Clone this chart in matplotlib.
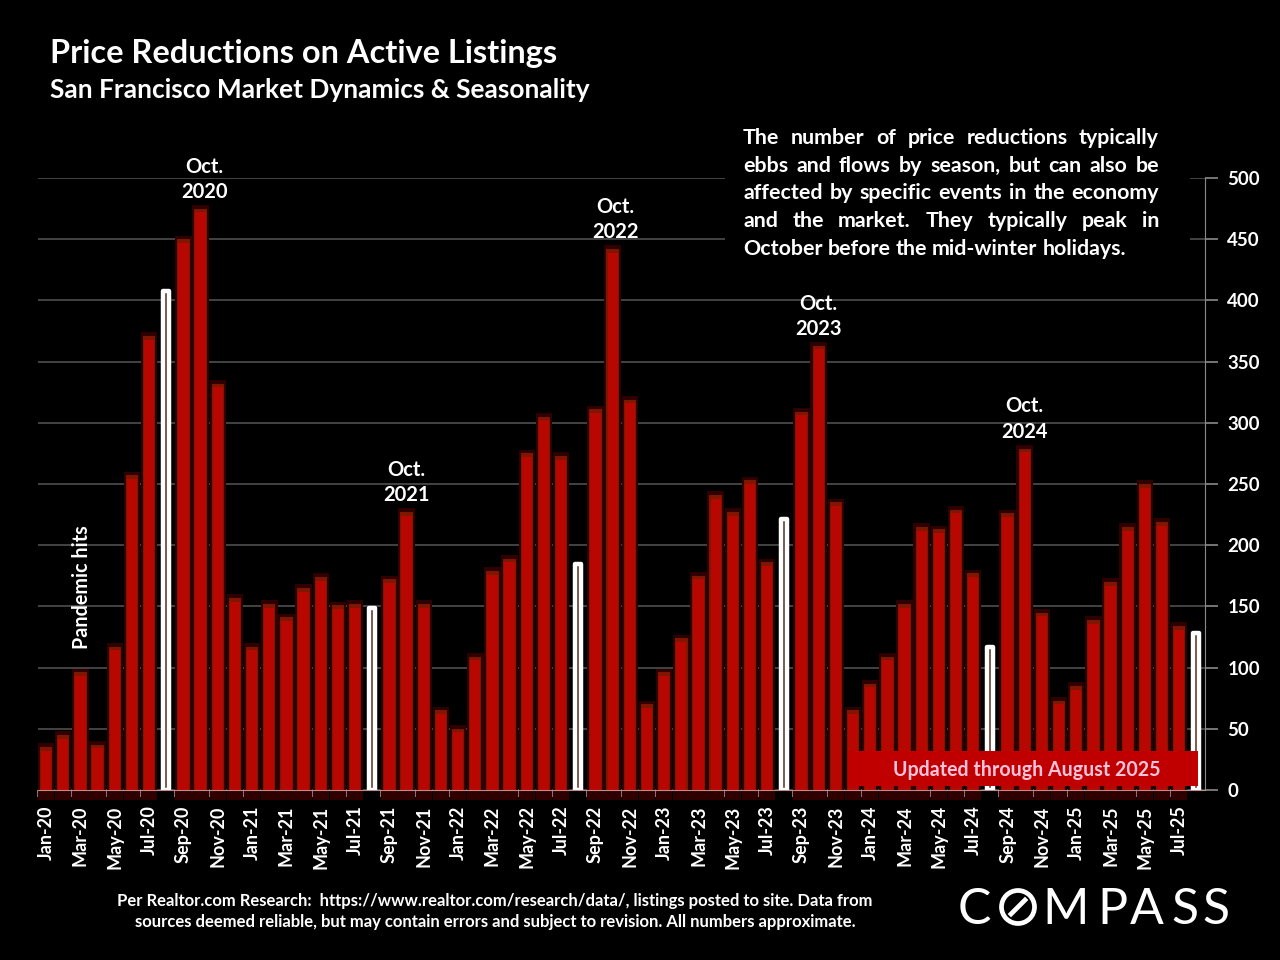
import matplotlib
matplotlib.use('Agg')
import matplotlib.pyplot as plt
from matplotlib.patches import Rectangle, Circle
import numpy as np

plt.rcParams['font.family'] = ['Lato', 'DejaVu Sans']

# Monthly price reductions, Jan-20 to Aug-25
years = ['20', '21', '22', '23', '24', '25']
month_names = ['Jan', 'Feb', 'Mar', 'Apr', 'May', 'Jun', 'Jul', 'Aug', 'Sep', 'Oct', 'Nov', 'Dec']
months = [m + '-' + y for y in years for m in month_names][:68]
values = [35, 45, 96, 37, 117, 257, 371, 408, 450, 475, 332, 157,
          117, 152, 141, 165, 174, 151, 152, 149, 172, 227, 152, 65,
          50, 109, 179, 189, 275, 305, 273, 185, 311, 442, 319, 70,
          96, 124, 175, 241, 227, 253, 186, 221, 309, 363, 235, 65,
          87, 109, 152, 215, 213, 229, 177, 117, 226, 279, 145, 73,
          85, 139, 170, 215, 250, 219, 134, 128]
y_ticks = [0, 50, 100, 150, 200, 250, 300, 350, 400, 450, 500]
oct_labels = ['Oct.\n2020', 'Oct.\n2021', 'Oct.\n2022', 'Oct.\n2023', 'Oct.\n2024']
oct_index = [9, 21, 33, 45, 57]

note_lines = ['The number of price reductions typically',
              'ebbs and flows by season, but can also be',
              'affected by specific events in the economy',
              'and the market. They typically peak in',
              'October before the mid-winter holidays.']

x = np.arange(len(values))
vals = np.array(values)
is_aug = np.array([m.startswith('Aug') for m in months])

W, H = 1280, 960
fig = plt.figure(figsize=(12.8, 9.6), dpi=100, facecolor='black')
ax = fig.add_axes([37.5 / W, (H - 790) / H, (1205 - 37.5) / W, (790 - 178) / H], facecolor='black')
ax.set_xlim(-0.5, len(values) - 0.5)
ax.set_ylim(0, 500)
ax.grid(axis='y', color='#555555', linewidth=1.1)
ax.set_axisbelow(True)

# dark halo behind the bars, running a little past both ends
ax.bar(x[~is_aug], vals[~is_aug] + 11, bottom=-8, width=0.96, color='#2e0000', clip_on=False, zorder=2)
ax.bar(x[~is_aug], vals[~is_aug], width=0.72, color='#7e1600', zorder=3)
ax.bar(x[~is_aug], vals[~is_aug] - 3, width=0.6, color='#b80600', zorder=4)

# August bars are outlined in white
ax.bar(x[is_aug], vals[is_aug], width=0.35, facecolor='#5a3020', edgecolor='white', linewidth=3.2,
       joinstyle='round', zorder=5)

ax.yaxis.tick_right()
ax.set_yticks(y_ticks)
ax.tick_params(axis='y', colors='#8a8a8a', length=9, width=1.2, labelcolor='white', labelsize=13.5, pad=7)
for lab in ax.get_yticklabels():
    lab.set_fontweight('bold')

ax.set_xticks(x[::2])
ax.set_xticklabels(months[::2], rotation=90, color='white', fontsize=13, fontweight='bold')
ax.tick_params(axis='x', length=0, pad=11)
ax.set_xticks(x[::2] - 0.5, minor=True)
ax.tick_params(axis='x', which='minor', length=5, width=1.1, color='#c09090')

for s in ['top', 'left']:
    ax.spines[s].set_visible(False)
ax.spines['right'].set_color('#8a8a8a')
ax.spines['bottom'].set_color('#c08a90')
ax.spines['bottom'].set_zorder(6)

# the Oct. labels sit a little off their bars in the original
for lab, i, dx in zip(oct_labels, oct_index, [3, 0, 2, 0, 0]):
    ax.annotate(lab, (x[i], values[i]), xytext=(dx, 5), textcoords='offset points',
                ha='center', va='bottom', color='white', fontsize=14.5, fontweight='bold', linespacing=1.32,
                zorder=7)

# page-level overlay in pixel coordinates
ov = fig.add_axes([0, 0, 1, 1], facecolor='none')
ov.set_xlim(0, W)
ov.set_ylim(H, 0)
ov.axis('off')

ov.text(50, 53, 'Price Reductions on Active Listings', color='white', fontsize=23.4, fontweight='bold', va='center')
ov.text(50, 90, 'San Francisco Market Dynamics & Seasonality', color='white', fontsize=18.9, fontweight='bold', va='center')

ov.text(82, 587, 'Pandemic hits', color='white', fontsize=14.2, fontweight='bold', rotation=90, ha='center', va='center')

# note block, justified word by word
ov.add_patch(Rectangle((725, 120), 465, 148, facecolor='black', edgecolor='none', zorder=1))
renderer = fig.canvas.get_renderer()
left, right = 743, 1159
for row, line in enumerate(note_lines):
    y = 138 + row * 27.7
    words = line.split()
    items = [ov.text(0, y, w, color='white', fontsize=15.4, fontweight='bold', va='center', zorder=2) for w in words]
    widths = [t.get_window_extent(renderer).width for t in items]
    if row < len(note_lines) - 1:
        gap = (right - left - sum(widths)) / (len(words) - 1)
    else:
        gap = 5
    pos = left
    for t, w in zip(items, widths):
        t.set_x(pos)
        pos += w + gap

# update banner
ov.add_patch(Rectangle((848, 751), 350, 35, facecolor='#c00000', edgecolor='none', zorder=3))
ov.text(1027, 770, 'Updated through August 2025', color='#ffc4dc', fontsize=14.1, fontweight='bold',
        ha='center', va='center', zorder=4)

# footer
ov.text(495, 901, 'Per Realtor.com Research:  https://www.realtor.com/research/data/, listings posted to site. Data from',
        color='white', fontsize=12, fontweight='bold', ha='center', va='center')
ov.text(495, 922, 'sources deemed reliable, but may contain errors and subject to revision. All numbers approximate.',
        color='white', fontsize=12, fontweight='bold', ha='center', va='center')

# logo
for letter, lx in zip(['C', 'M', 'P', 'A', 'S', 'S'], [974, 1066, 1112, 1147, 1185, 1216]):
    ov.text(lx, 910, letter, color='white', fontsize=36, ha='center', va='center', fontweight='normal')
ov.add_patch(Circle((1018, 907), 16.5, facecolor='none', edgecolor='white', linewidth=3.4))
ov.plot([1011, 1025], [914, 900], color='white', linewidth=3.4)

fig.savefig('out.png', dpi=100, facecolor='black')
